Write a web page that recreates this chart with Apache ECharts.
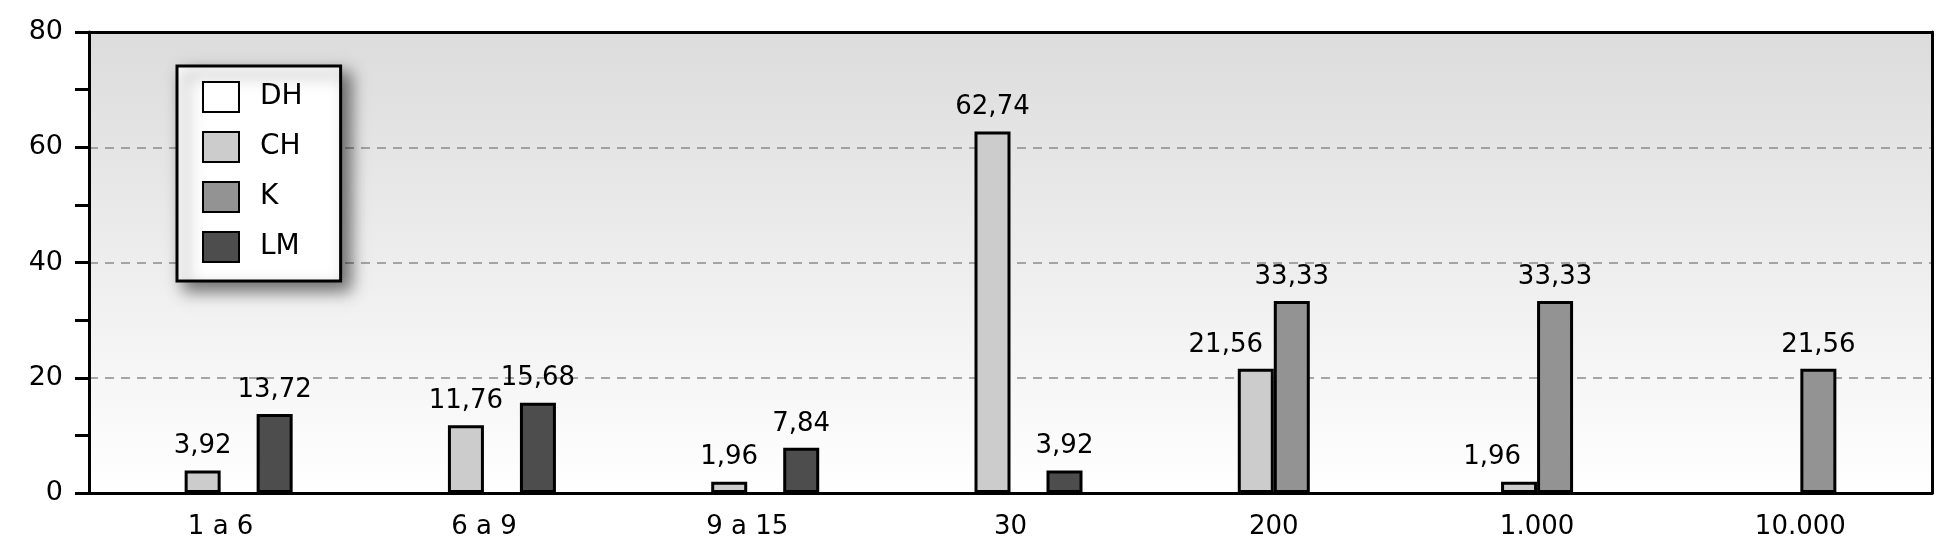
<!DOCTYPE html>
<html>
<head>
<meta charset="utf-8">
<script src="https://cdn.jsdelivr.net/npm/echarts@6/dist/echarts.min.js"></script>
<style>
html,body{margin:0;padding:0;background:#fff;}
#chart{width:1956px;height:554px;}
</style>
</head>
<body>
<div id="chart"></div>
<script>
const categories = ['1 a 6', '6 a 9', '9 a 15', '30', '200', '1.000', '10.000'];
const seriesNames = ['DH', 'CH', 'K', 'LM'];
const dhValues = [null, null, null, null, null, null, null];
const chValues = [3.92, 11.76, 1.96, 62.74, 21.56, 1.96, null];
const kValues  = [null, null, null, null, 33.33, 33.33, 21.56];
const lmValues = [13.72, 15.68, 7.84, 3.92, null, null, null];
const yTicks = [0, 20, 40, 60, 80];

const colors = ['#ffffff', '#cccccc', '#939393', '#4d4d4d'];
const labelShiftCH = {4: -30, 5: -27};
const FONT = 'DejaVu Sans';

function fmt(v) { return String(v.toFixed(2)).replace('.', ','); }

function makeSeries(name, values, color, shifts) {
  return {
    name: name,
    type: 'bar',
    xAxisIndex: 0, yAxisIndex: 0,
    barWidth: 36,
    barGap: '0%',
    itemStyle: { color: color, borderColor: '#000', borderWidth: 3 },
    label: {
      show: true, position: 'top', distance: 11,
      fontFamily: FONT, fontSize: 26, color: '#000',
      formatter: p => fmt(p.value)
    },
    data: values.map((v, i) => {
      if (shifts && shifts[i] !== undefined && v != null) {
        return { value: v, label: { offset: [shifts[i], 0] } };
      }
      return v;
    })
  };
}

const frameAxis = {
  show: true,
  axisLine: { show: true, onZero: false, lineStyle: { color: '#000', width: 3 } },
  axisTick: { show: false }, axisLabel: { show: false }, splitLine: { show: false }
};

const chart = echarts.init(document.getElementById('chart'), null, {renderer: 'canvas'});
chart.setOption({
  animation: false,
  backgroundColor: '#ffffff',
  grid: {
    left: 89, right: 24, top: 32, bottom: 61,
    show: true, borderWidth: 0,
    backgroundColor: new echarts.graphic.LinearGradient(0, 0, 0, 1, [
      {offset: 0, color: '#dcdcdc'},
      {offset: 1, color: '#ffffff'}
    ])
  },
  legend: {
    orient: 'vertical', left: 177, top: 66,
    data: seriesNames,
    icon: 'rect', itemWidth: 36, itemHeight: 30, itemGap: 18,
    backgroundColor: '#ffffff', borderColor: '#000', borderWidth: 3, borderRadius: 0,
    padding: [15, 38, 18, 25],
    shadowBlur: 16, shadowColor: 'rgba(0,0,0,0.55)', shadowOffsetX: 8, shadowOffsetY: 8,
    textStyle: { fontFamily: FONT, fontSize: 28, color: '#000', padding: [0, 0, 0, 16] },
    selectedMode: false
  },
  xAxis: [{
    type: 'category', data: categories,
    axisLine: { lineStyle: { color: '#000', width: 3 } },
    axisTick: { length: 16, lineStyle: { color: '#000', width: 3 } },
    axisLabel: { fontFamily: FONT, fontSize: 26, color: '#000', margin: 21 },
    splitLine: { show: false }
  }, Object.assign({ type: 'category', data: categories, position: 'top' }, frameAxis)],
  yAxis: [{
    type: 'value', min: yTicks[0], max: yTicks[yTicks.length - 1], interval: 20,
    axisLine: { show: true, lineStyle: { color: '#000', width: 3 } },
    axisTick: { show: true, length: 14, lineStyle: { color: '#000', width: 3 } },
    minorTick: { show: true, splitNumber: 2, length: 14, lineStyle: { color: '#000', width: 3 } },
    axisLabel: { fontFamily: FONT, fontSize: 27, color: '#000', margin: 26 },
    splitLine: { show: true, lineStyle: { color: '#8c8c8c', width: 1.5, type: [9, 7] } }
  }, Object.assign({ type: 'value', min: yTicks[0], max: yTicks[yTicks.length - 1], position: 'right' }, frameAxis)],
  series: [
    makeSeries(seriesNames[0], dhValues, colors[0]),
    makeSeries(seriesNames[1], chValues, colors[1], labelShiftCH),
    makeSeries(seriesNames[2], kValues, colors[2]),
    makeSeries(seriesNames[3], lmValues, colors[3])
  ]
});
</script>
</body>
</html>
